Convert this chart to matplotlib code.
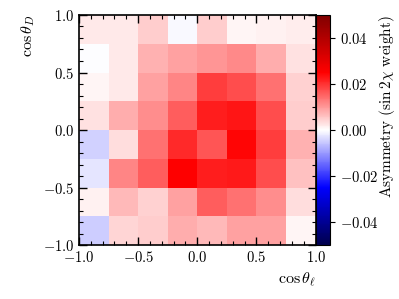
import numpy as np
import matplotlib
matplotlib.use("Agg")
import matplotlib.pyplot as plt

plt.rcParams['font.family'] = 'serif'
plt.rcParams['font.serif'] = ['cmr10']
plt.rcParams['mathtext.fontset'] = 'cm'
plt.rcParams['axes.formatter.use_mathtext'] = True
plt.rcParams['font.size'] = 10.5

# bin edges in cos(theta_l) and cos(theta_D)
bordes_l = [-1.0, -0.75, -0.5, -0.25, 0.0, 0.25, 0.5, 0.75, 1.0]
bordes_D = [-1.0, -0.75, -0.5, -0.25, 0.0, 0.25, 0.5, 0.75, 1.0]

# asimetria por bin, filas de abajo (cos_D=-1) hacia arriba
asim = np.array([
    [-0.0050, 0.0040, 0.0050, 0.0080, 0.0070, 0.0090, 0.0090, 0.0008],
    [ 0.0015, 0.0070, 0.0045, 0.0090, 0.0160, 0.0140, 0.0110, 0.0035],
    [-0.0025, 0.0120, 0.0160, 0.0250, 0.0220, 0.0225, 0.0175, 0.0060],
    [-0.0045, 0.0035, 0.0140, 0.0210, 0.0165, 0.0245, 0.0190, 0.0075],
    [ 0.0030, 0.0080, 0.0110, 0.0160, 0.0220, 0.0230, 0.0175, 0.0050],
    [ 0.0010, 0.0020, 0.0090, 0.0120, 0.0190, 0.0175, 0.0140, 0.0045],
    [-0.0003, 0.0022, 0.0075, 0.0090, 0.0105, 0.0115, 0.0080, 0.0030],
    [ 0.0022, 0.0022, 0.0050, -0.0005, 0.0050, 0.0010, 0.0012, 0.0018],
])

fig = plt.figure(figsize=(3.99, 2.99), dpi=100)
ax = fig.add_axes([0.198, 0.18, 0.593, 0.77])
cax = fig.add_axes([0.793, 0.18, 0.034, 0.77])

malla = ax.pcolormesh(bordes_l, bordes_D, asim, cmap='seismic', vmin=-0.05, vmax=0.05)
cb = fig.colorbar(malla, cax=cax)
cb.set_ticks([-0.04, -0.02, 0.0, 0.02, 0.04])
cb.set_label(r'Asymmetry $(\sin 2\chi$ weight$)$', loc='top', fontsize=11, labelpad=-1)

ax.set_xlim(-1, 1)
ax.set_ylim(-1, 1)
ax.set_xticks([-1.0, -0.5, 0.0, 0.5, 1.0])
ax.set_yticks([-1.0, -0.5, 0.0, 0.5, 1.0])
ax.set_xticks(np.arange(-1, 1.01, 0.1), minor=True)
ax.set_yticks(np.arange(-1, 1.01, 0.1), minor=True)
ax.tick_params(which='both', direction='in', top=True, right=True)
ax.tick_params(which='major', length=6, width=1)
ax.tick_params(which='minor', length=3, width=0.8)
for s in ax.spines.values():
    s.set_linewidth(1.2)

ax.set_xlabel(r'$\cos\theta_\ell$', loc='right', fontsize=11.5)
ax.set_ylabel(r'$\cos\theta_D$', loc='top', fontsize=11.5)

fig.savefig('out.png', dpi=100)
